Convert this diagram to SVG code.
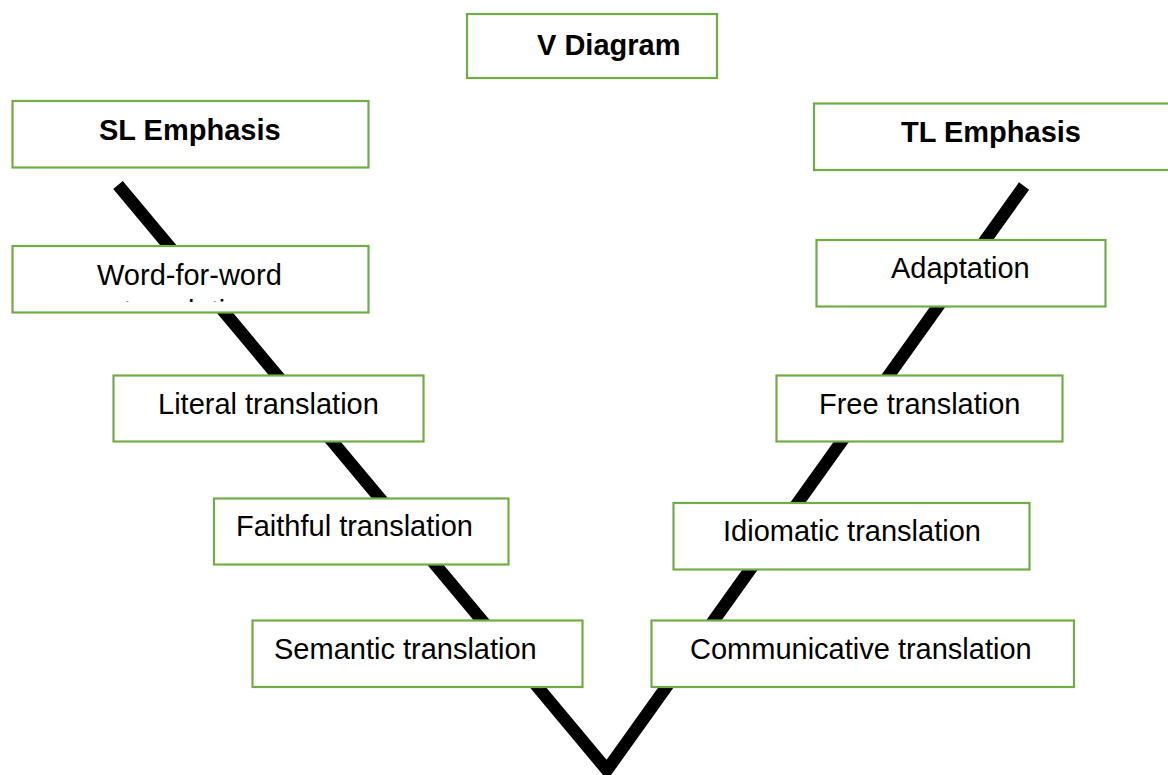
<svg xmlns="http://www.w3.org/2000/svg" width="1168" height="775" viewBox="0 0 1168 775">
<style>
.box{fill:#fff;stroke:#70AD47;stroke-width:2.2}
.t{font-family:"Liberation Sans",Arial,sans-serif;font-size:29px;fill:#000}
.b{font-weight:bold}
.v{fill:none;stroke:#000;stroke-width:12.5;stroke-linejoin:miter;stroke-linecap:butt}
</style>
<defs>
<clipPath id="wclip"><rect x="13" y="247" width="355" height="55"/></clipPath>
</defs>
<rect width="1168" height="775" fill="#fff"/>
<g id="connectors">
<polyline class="v" points="118,185 607,770 1024,186"/>
</g>
<g id="title"><rect class="box" x="467" y="14" width="250" height="64"/><text class="t b" x="537" y="55">V Diagram</text></g>
<g id="sl"><rect class="box" x="12.5" y="101" width="356" height="66.5"/><text class="t b" x="99" y="140">SL Emphasis</text></g>
<g id="tl"><rect class="box" x="814" y="103.5" width="364" height="66.5"/><text class="t b" x="901" y="142">TL Emphasis</text></g>
<g id="wfw"><rect class="box" x="12.5" y="246" width="356" height="66.5"/><text class="t" x="97" y="285">Word-for-word</text><text class="t" x="190.5" y="320.5" text-anchor="middle" clip-path="url(#wclip)">translation</text></g>
<g id="adaptation"><rect class="box" x="816.5" y="240" width="289" height="66.5"/><text class="t" x="891" y="278">Adaptation</text></g>
<g id="literal"><rect class="box" x="113.5" y="375.5" width="310" height="66"/><text class="t" x="158" y="414">Literal translation</text></g>
<g id="free"><rect class="box" x="776.5" y="375.5" width="286" height="66"/><text class="t" x="819" y="414">Free translation</text></g>
<g id="faithful"><rect class="box" x="214" y="498.5" width="294.5" height="66"/><text class="t" x="236" y="536">Faithful translation</text></g>
<g id="idiomatic"><rect class="box" x="673.5" y="503" width="356" height="66.5"/><text class="t" x="723" y="541">Idiomatic translation</text></g>
<g id="semantic"><rect class="box" x="252.5" y="620.5" width="330" height="66.5"/><text class="t" x="274" y="659">Semantic translation</text></g>
<g id="communicative"><rect class="box" x="651.5" y="620.5" width="422.5" height="66.5"/><text class="t" x="690" y="659">Communicative translation</text></g>
</svg>
